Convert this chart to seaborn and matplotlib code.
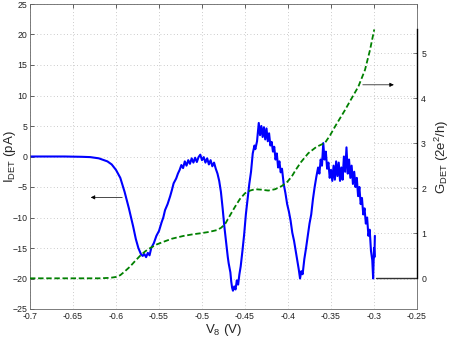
import numpy as np
import pandas as pd
import matplotlib
matplotlib.use("Agg")
import matplotlib.pyplot as plt
import seaborn as sns

# ---- data ----
v_det = [-0.700, -0.660, -0.640, -0.630, -0.620, -0.610, -0.605, -0.600, -0.595, -0.590,
         -0.585, -0.580, -0.577, -0.574, -0.571, -0.569, -0.567, -0.565, -0.563, -0.561,
         -0.559, -0.556, -0.553, -0.550, -0.547, -0.545, -0.543, -0.540, -0.537, -0.535,
         -0.533, -0.530, -0.528, -0.526, -0.524, -0.522, -0.520, -0.518, -0.516, -0.514,
         -0.512, -0.510, -0.508, -0.506, -0.504, -0.502, -0.500, -0.498, -0.496, -0.494,
         -0.492, -0.490, -0.488, -0.486, -0.484, -0.482, -0.480, -0.478, -0.476, -0.474,
         -0.472, -0.470, -0.469, -0.467, -0.466, -0.465, -0.464, -0.4625, -0.461, -0.4595,
         -0.458, -0.4565, -0.455, -0.453, -0.451, -0.449, -0.447, -0.445, -0.443, -0.441,
         -0.439, -0.438, -0.436, -0.434, -0.4325, -0.431, -0.4295, -0.428, -0.4265, -0.425,
         -0.4235, -0.422, -0.4205, -0.419, -0.4175, -0.416, -0.4145, -0.413, -0.4115, -0.410,
         -0.4085, -0.407, -0.405, -0.403, -0.401, -0.399, -0.397, -0.395, -0.393, -0.391,
         -0.389, -0.3875, -0.386, -0.3845, -0.383, -0.381, -0.379, -0.377, -0.375, -0.373,
         -0.371, -0.369, -0.367, -0.365, -0.3635, -0.362, -0.3605, -0.359, -0.3575, -0.356,
         -0.3545, -0.353, -0.3515, -0.350, -0.3485, -0.347, -0.3455, -0.344, -0.3425, -0.341,
         -0.3395, -0.338, -0.3365, -0.335, -0.3335, -0.332, -0.3305, -0.329, -0.3275, -0.326,
         -0.3245, -0.323, -0.3215, -0.320, -0.3185, -0.317, -0.3155, -0.314, -0.3125, -0.311,
         -0.3095, -0.308, -0.3065, -0.305, -0.3035, -0.302, -0.301, -0.300, -0.2995, -0.299]
i_det = [0.0, 0.0, -0.05, -0.1, -0.3, -0.8, -1.3, -2.2, -3.5, -5.8,
         -8.5, -11.5, -13.5, -15.0, -16.0, -16.3, -16.0, -16.5, -15.8, -16.2,
         -15.0, -14.2, -13.0, -12.2, -10.8, -10.0, -8.8, -7.8, -6.5, -5.5,
         -4.4, -3.6, -2.8, -2.2, -1.4, -1.9, -0.8, -1.5, -0.6, -1.2,
         -0.3, -1.0, -0.2, -0.9, -0.1, 0.3, -0.6, -0.1, -1.0, -0.3,
         -1.3, -0.6, -1.6, -1.0, -2.0, -2.8, -4.0, -5.8, -8.5, -11.5,
         -14.0, -16.5, -17.5, -19.0, -20.5, -21.5, -22.0, -21.3, -21.8, -20.3,
         -21.0, -19.3, -18.0, -15.5, -12.8, -9.5, -7.0, -4.5, -2.5, 0.5,
         1.8, 1.2, 2.5, 5.5, 3.5, 5.0, 3.2, 4.8, 2.8, 4.6,
         2.5, 3.8, 1.8, 2.4, 0.8, 1.6, -0.5, 0.5, -1.8, -0.8,
         -2.6, -2.0, -4.5, -6.0, -7.8, -9.0, -10.5, -12.5, -13.8, -15.5,
         -17.2, -18.5, -20.0, -18.8, -19.3, -16.8, -15.0, -13.0, -11.0, -9.5,
         -7.0, -5.0, -3.3, -1.8, -2.8, -0.5, -1.5, 2.2, -0.5, 0.8,
         -2.0, -1.0, -3.5, -2.2, -4.0, -1.5, -3.8, -0.8, -3.2, -1.0,
         -4.0, -1.8, -3.8, 0.0, -2.5, 1.5, -2.8, -0.5, -3.5, -1.5,
         -4.5, -2.5, -5.0, -3.5, -6.5, -5.0, -7.8, -6.8, -9.5, -8.5,
         -11.0, -10.0, -13.0, -12.0, -15.5, -17.0, -20.0, -15.0, -16.5, -13.0]

v_g = [-0.700, -0.620, -0.607, -0.600, -0.595, -0.590, -0.5837, -0.578, -0.572, -0.566,
       -0.5605, -0.553, -0.545, -0.535, -0.522, -0.510, -0.502, -0.492, -0.483, -0.478,
       -0.4733, -0.468, -0.4616, -0.456, -0.450, -0.444, -0.4384, -0.431, -0.423, -0.415,
       -0.4073, -0.401, -0.3957, -0.391, -0.385, -0.3764, -0.367, -0.357, -0.351, -0.3454,
       -0.3337, -0.326, -0.3182, -0.3105, -0.3047, -0.2997]
g_det = [0.0, 0.0, 0.01, 0.03, 0.07, 0.15, 0.26, 0.38, 0.50, 0.60,
         0.67, 0.75, 0.81, 0.88, 0.94, 0.98, 1.00, 1.03, 1.07, 1.12,
         1.20, 1.38, 1.59, 1.76, 1.89, 1.95, 1.98, 1.97, 1.95, 1.98,
         2.05, 2.14, 2.26, 2.41, 2.58, 2.78, 2.92, 3.01, 3.18, 3.37,
         3.74, 4.00, 4.26, 4.63, 5.07, 5.53]

x_ticks = [-0.7, -0.65, -0.6, -0.55, -0.5, -0.45, -0.4, -0.35, -0.3, -0.25]
x_ticklabels = ["-0.7", "-0.65", "-0.6", "-0.55", "-0.5", "-0.45", "-0.4", "-0.35", "-0.3", "-0.25"]
i_ticks = [-25, -20, -15, -10, -5, 0, 5, 10, 15, 20, 25]
g_ticks = [0, 1, 2, 3, 4, 5]

df_i = pd.DataFrame({"V": v_det, "I": i_det})
df_g = pd.DataFrame({"V": v_g, "G": g_det})

sns.set_style("white")
plt.rcParams["font.family"] = ["Liberation Sans", "DejaVu Sans"]
plt.rcParams["mathtext.default"] = "regular"

fig = plt.figure(figsize=(4.5, 3.41), dpi=100)
ax1 = fig.add_axes([30 / 450, 32 / 341, 387 / 450, 305 / 341])
ax2 = ax1.twinx()

sns.lineplot(data=df_i, x="V", y="I", ax=ax1, sort=False, estimator=None,
             color=(0, 0, 1), linewidth=1.5)
sns.lineplot(data=df_g, x="V", y="G", ax=ax2, sort=False, estimator=None,
             color=(0, 0.5, 0), linewidth=1.3, linestyle=(0, (3.0, 1.5)))
ax2.plot([-0.298, -0.25], [0, 0], color="#333333", lw=1.0)

ax1.set_xlim(-0.7, -0.25)
ax1.set_ylim(-25, 25)
ax2.set_ylim(-0.682, 6.096)

ax1.set_xticks(x_ticks)
ax1.set_xticklabels(x_ticklabels)
ax1.set_yticks(i_ticks)
ax2.set_yticks(g_ticks)

for ax in (ax1, ax2):
    ax.tick_params(labelsize=6.3, colors="#222222", direction="in", length=3, width=0.5)
ax1.tick_params(axis="x", top=True, pad=2)
ax1.tick_params(axis="y", left=True, pad=2)
ax2.tick_params(axis="y", right=True, pad=3)

ax1.grid(True, linestyle=(0, (1, 3)), color="#bbbbbb", linewidth=0.6)
ax2.grid(False)
for g in g_ticks[1:]:
    ax2.plot([-0.3, -0.25], [g, g], linestyle=(0, (1, 3)), color="#bbbbbb", lw=0.6)

for s in ax1.spines.values():
    s.set_color("#666666")
    s.set_linewidth(0.6)
for name, s in ax2.spines.items():
    s.set_visible(False)
ax2.spines["right"].set_visible(True)
ax2.spines["right"].set_bounds(0, 5.55)
ax2.spines["right"].set_color("black")
ax2.spines["right"].set_linewidth(1.0)

ax1.set_xlabel(r"V$_8$ (V)", fontsize=9.5, labelpad=1)
ax1.set_ylabel(r"I$_{DET}$ (pA)", fontsize=9.5)
ax1.yaxis.set_label_coords(-0.031, 0.5)
ax2.set_ylabel(r"G$_{DET}$ (2e$^2$/h)", fontsize=9.5, labelpad=5)

ax1.annotate("", xy=(-0.6326, -6.7), xytext=(-0.5895, -6.7),
             arrowprops=dict(arrowstyle="-|>", color="black", lw=0.5, mutation_scale=6))
ax2.annotate("", xy=(-0.2737, 4.3), xytext=(-0.3163, 4.3),
             arrowprops=dict(arrowstyle="-|>", color="black", lw=0.5, mutation_scale=6))

fig.savefig("out.png", dpi=100)
